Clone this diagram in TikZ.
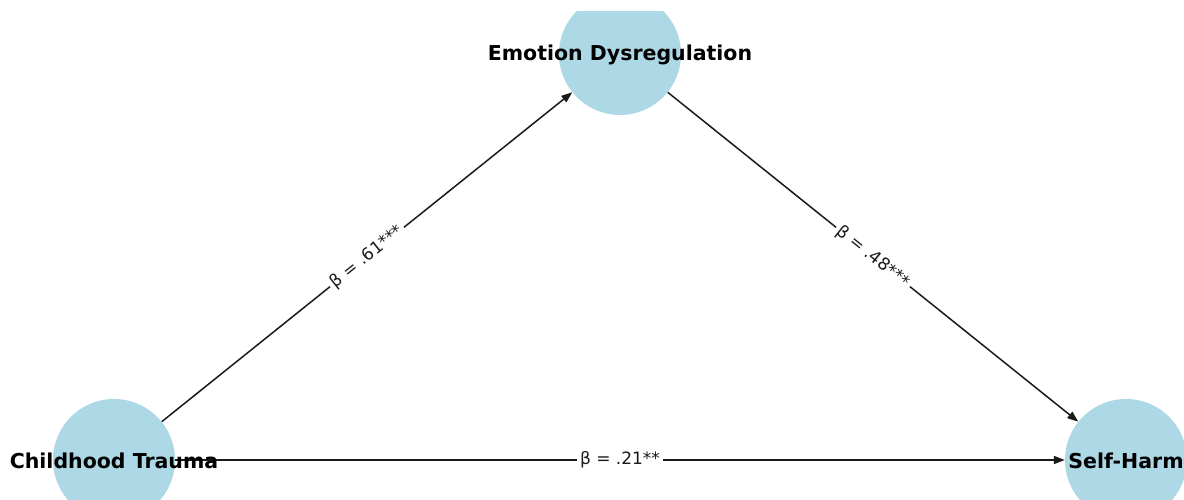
\documentclass[tikz,border=0pt]{standalone}
\usepackage{fontspec}
\setmainfont{DejaVu Sans}
\usetikzlibrary{arrows.meta}
\definecolor{nodeblue}{HTML}{ADD8E6}
\definecolor{edgecol}{HTML}{1A1A1A}
\tikzset{
  vertex/.style={circle, fill=nodeblue, draw=none, minimum size=122bp, inner sep=0pt},
  vlabel/.style={font=\fontsize{20.5bp}{24bp}\selectfont\bfseries, text=black, inner sep=0pt},
  conn/.style={draw=edgecol, line width=1.5bp, -{Triangle[length=11bp,width=8bp]}},
  elabel/.style={font=\fontsize{17bp}{20bp}\selectfont, fill=white, inner sep=3bp, text=edgecol}
}
\begin{document}
\begin{tikzpicture}[x=1bp,y=1bp]
\useasboundingbox (0,0) rectangle (1184,500);
\fill[white] (0,0) rectangle (1184,500);
\begin{scope}
  \clip (0,0) rectangle (1184,488);
  \node[vertex] (ed) at (620,446) {};
  \node[vertex] (ct) at (114,40) {};
  \node[vertex] (sh) at (1126,40) {};
\end{scope}
\draw[conn] (ct) -- node[elabel, sloped] {β = .61***} (ed);
\draw[conn] (ed) -- node[elabel, sloped] {β = .48***} (sh);
\draw[conn] (ct) -- node[elabel] {β = .21**} (sh);
\node[vlabel] (edl) at ([yshift=-1bp]ed) {Emotion Dysregulation};
\node[vlabel] (ctl) at ([yshift=-1bp]ct) {Childhood Trauma};
\node[vlabel] (shl) at ([yshift=-1bp]sh) {Self-Harm};
\end{tikzpicture}
\end{document}
